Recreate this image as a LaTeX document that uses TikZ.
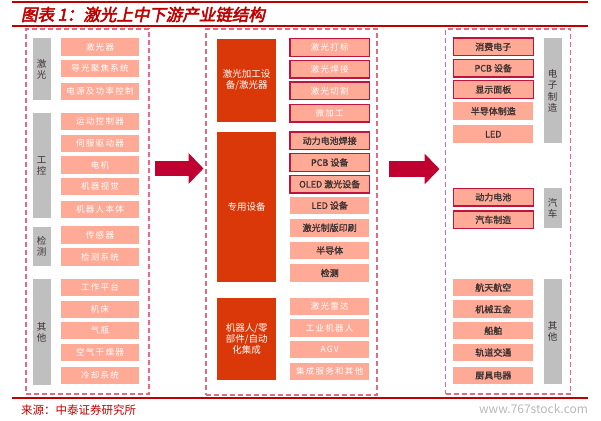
\documentclass[tikz,border=0pt]{standalone}
\usepackage{fontspec}
\setmainfont{Noto Sans CJK SC}
\newfontfamily\titlefont[FakeBold=3,FakeSlant=0.2]{Noto Sans CJK SC}
\newfontfamily\lightfont[LetterSpace=15]{Noto Sans CJK SC}
\newfontfamily\darkfont[FakeBold=1.5]{Noto Sans CJK SC}
\usetikzlibrary{arrows.meta}
\definecolor{titlered}{RGB}{192,0,0}
\definecolor{salmon}{RGB}{255,170,150}
\definecolor{blockred}{RGB}{218,56,8}
\definecolor{bargray}{RGB}{191,191,191}
\definecolor{framepink}{RGB}{228,105,135}
\definecolor{edgered}{RGB}{192,20,60}
\definecolor{arrowred}{RGB}{192,0,48}
\definecolor{darktext}{RGB}{60,50,50}
\begin{document}
\begin{tikzpicture}[x=1pt, y=-1pt,
    every node/.style = {inner sep=0pt, outer sep=0pt},
    frame/.style = {draw=framepink, line width=1.3pt, dash pattern=on 5pt off 3pt},
    item/.style = {fill=salmon, text=white, font=\lightfont\fontsize{8.5}{9}\selectfont,
                   minimum height=17.5pt},
    left item/.style = {item, minimum width=78.6pt},
    mid item/.style = {item, minimum width=79.3pt},
    right item/.style = {item, minimum width=80pt},
    dark/.style = {text=darktext, font=\darkfont\fontsize{9}{9}\selectfont},
    edged/.style = {draw=edgered, line width=1.3pt},
    bar/.style = {fill=bargray, text=darktext, minimum width=18pt, align=center,
                  font=\fontsize{9.5}{11.5}\selectfont},
    block/.style = {fill=blockred, text=white, minimum width=58.7pt, align=center,
                    font=\fontsize{9.5}{11}\selectfont},
    bigarrow/.style = {arrowred, line width=15.3pt, -{Triangle[length=15pt, width=30pt]}}]
\useasboundingbox (0,0) rectangle (601,420);

% title and rules
\draw[titlered, line width=2.3pt] (12,2) -- (588,2);
\node[anchor=west, text=titlered, font=\titlefont\fontsize{16.5}{17}\selectfont] (title) at (21,14.5) {图表 1：激光上中下游产业链结构};
\draw[titlered, line width=2pt] (12,25.7) -- (588,25.7);
\draw[titlered, line width=2pt] (12,397.8) -- (588,397.8);
\node[anchor=west, text=titlered, font=\fontsize{11.5}{12}\selectfont] (source) at (21,410) {来源：中泰证券研究所};
\node[anchor=east, text=black!28, font=\fontsize{12}{12}\selectfont] (mark) at (588,409) {www.767stock.com};

% frames
\node[frame, minimum width=123pt, minimum height=365pt] (upstream) at (87.5,211.5) {};
\node[frame, minimum width=171pt, minimum height=366pt] (midstream) at (291.5,212) {};
\node[frame, minimum width=125pt, minimum height=365pt] (downstream) at (508.2,211.5) {};

% upstream
\node[bar, minimum height=61.7pt] (laser) at (41.7,69.2) {激\\光};
\node[bar, minimum height=105pt] (control) at (41.7,165.8) {工\\控};
\node[bar, minimum height=39pt] (detect) at (41.7,246.2) {检\\测};
\node[bar, minimum height=105.7pt] (upother) at (41.7,332.2) {其\\他};

\node[left item] (u1) at (100,47) {激光器};
\node[left item] (u2) at (100,68.7) {导光聚焦系统};
\node[left item] (u3) at (100,91.7) {电源及功率控制};
\node[left item] (u4) at (100,121.7) {运动控制器};
\node[left item] (u5) at (100,143.3) {伺服驱动器};
\node[left item] (u6) at (100,165) {电机};
\node[left item] (u7) at (100,186.7) {机器视觉};
\node[left item] (u8) at (100,209.7) {机器人本体};
\node[left item] (u9) at (100,235) {传感器};
\node[left item] (u10) at (100,257) {检测系统};
\node[left item] (u11) at (100,287.7) {工作平台};
\node[left item] (u12) at (100,309.3) {机床};
\node[left item] (u13) at (100,330.7) {气瓶};
\node[left item] (u14) at (100,352.7) {空气干燥器};
\node[left item] (u15) at (100,375.7) {冷却系统};

% midstream
\node[block, minimum height=82.7pt] (equip) at (246.7,80.3) {激光加工设\\备/激光器};
\node[block, minimum height=150.6pt] (special) at (246.7,207) {专用设备};
\node[block, minimum height=82.3pt] (robot) at (246.7,338.8) {机器人/零\\部件/自动\\化集成};

\node[mid item, edged] (m1) at (329.7,47.5) {激光打标};
\node[mid item, edged] (m2) at (329.7,69.2) {激光焊接};
\node[mid item, edged] (m3) at (329.7,90.8) {激光切割};
\node[mid item, edged] (m4) at (329.7,113.2) {微加工};
\node[mid item, edged, dark] (m5) at (329.7,140.8) {动力电池焊接};
\node[mid item, edged, dark] (m6) at (329.7,162.5) {PCB 设备};
\node[mid item, edged, dark] (m7) at (329.7,184.2) {OLED 激光设备};
\node[mid item, dark] (m8) at (329.7,205.5) {LED 设备};
\node[mid item, dark] (m9) at (329.7,227.8) {激光制版印刷};
\node[mid item, dark] (m10) at (329.7,250.5) {半导体};
\node[mid item, dark] (m11) at (329.7,273) {检测};
\node[mid item] (m12) at (329.7,306.3) {激光雷达};
\node[mid item] (m13) at (329.7,328) {工业机器人};
\node[mid item] (m14) at (329.7,349.7) {AGV};
\node[mid item] (m15) at (329.7,371.3) {集成服务和其他};

% downstream
\node[right item, edged, dark] (d1) at (493.3,46.8) {消费电子};
\node[right item, edged, dark] (d2) at (493.3,68.2) {PCB 设备};
\node[right item, edged, dark] (d3) at (493.3,89.5) {显示面板};
\node[right item, dark] (d4) at (493.3,111.2) {半导体制造};
\node[right item, dark] (d5) at (493.3,134.2) {LED};
\node[right item, edged, dark] (d6) at (493.3,197.2) {动力电池};
\node[right item, edged, dark] (d7) at (493.3,219.8) {汽车制造};
\node[right item, dark] (d8) at (493.3,287.5) {航天航空};
\node[right item, dark] (d9) at (493.3,309.2) {机械五金};
\node[right item, dark] (d10) at (493.3,330.7) {船舶};
\node[right item, dark] (d11) at (493.3,352.5) {轨道交通};
\node[right item, dark] (d12) at (493.3,375.3) {厨具电器};

\node[bar, minimum height=105pt] (electro) at (552.5,90.8) {电\\子\\制\\造};
\node[bar, minimum height=40pt] (auto) at (552.5,208.3) {汽\\车};
\node[bar, minimum height=105pt] (downother) at (552.5,331.5) {其\\他};

% arrows
\coordinate (a1) at (155,168.5);
\coordinate (b1) at (203.5,168.5);
\coordinate (a2) at (389.3,169);
\coordinate (b2) at (439.5,169);
\draw[bigarrow] (a1) -- (b1);
\draw[bigarrow] (a2) -- (b2);
\end{tikzpicture}
\end{document}
